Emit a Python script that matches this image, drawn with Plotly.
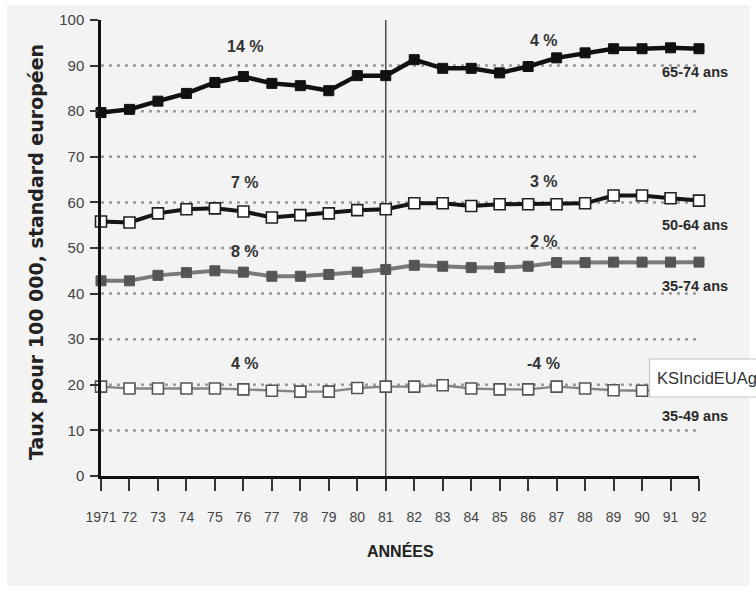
import plotly.graph_objects as go

# Années (axe horizontal) et libellés des graduations
years = list(range(1971, 1993))
year_labels = ["1971"] + [str(y)[2:] for y in years[1:]]

# Taux d'incidence pour 100 000, standard européen, par tranche d'âge
rate_65_74 = [79.7, 80.4, 82.2, 83.9, 86.3, 87.6, 86.1, 85.6, 84.5, 87.8, 87.8,
              91.3, 89.4, 89.4, 88.4, 89.8, 91.7, 92.8, 93.7, 93.7, 93.9, 93.7]
rate_50_64 = [55.8, 55.6, 57.6, 58.5, 58.7, 58.0, 56.7, 57.2, 57.6, 58.3, 58.5,
              59.8, 59.8, 59.2, 59.6, 59.6, 59.6, 59.8, 61.5, 61.5, 60.9, 60.4]
rate_35_74 = [42.8, 42.8, 44.0, 44.6, 45.0, 44.7, 43.8, 43.8, 44.2, 44.7, 45.3,
              46.2, 46.0, 45.7, 45.7, 46.0, 46.8, 46.8, 46.9, 46.9, 46.9, 46.9]
rate_35_49 = [19.6, 19.2, 19.2, 19.2, 19.2, 19.0, 18.7, 18.5, 18.5, 19.3, 19.6,
              19.6, 19.9, 19.2, 19.0, 19.0, 19.6, 19.2, 18.8, 18.7, 18.8, 18.8]

# Évolutions en % sur 1971-81 et 1981-92
change_labels = [
    ("14 %", "4 %", 94.1, 95.4),
    ("7 %", "3 %", 64.3, 64.5),
    ("8 %", "2 %", 49.3, 51.5),
    ("4 %", "-4 %", 24.6, 24.6),
]
# Libellés des tranches d'âge (texte, hauteur)
age_labels = [("65-74 ans", 88.6), ("50-64 ans", 55.0),
              ("35-74 ans", 41.6), ("35-49 ans", 13.1)]
y_ticks = list(range(0, 101, 10))
grid_levels = list(range(10, 100, 10))

SANS = "Liberation Sans, Arial, sans-serif"

# Géométrie de la zone de tracé (pixels)
W, H = 756, 592
L, R, T, B = 101, 56.5, 20, 116
PW, PH = W - L - R, H - T - B


def px(x):
    return (x - L) / PW


def py(y):
    return (H - B - y) / PH


fig = go.Figure()

series = [
    (rate_65_74, "#111111", 4.5, dict(symbol="square", size=10, color="#111111",
                                      line=dict(color="#111111", width=1))),
    (rate_50_64, "#151515", 4, dict(symbol="square", size=11, color="white",
                                    line=dict(color="#222222", width=1.6))),
    (rate_35_74, "#7a7a7a", 4, dict(symbol="square", size=10, color="#555555",
                                    line=dict(color="#555555", width=1))),
    (rate_35_49, "#858585", 2.4, dict(symbol="square", size=11, color="white",
                                      line=dict(color="#555555", width=1.6))),
]
for vals, col, lw, mk in series:
    fig.add_trace(go.Scatter(
        x=years, y=vals, mode="lines+markers",
        line=dict(color=col, width=lw), marker=mk,
        cliponaxis=False, showlegend=False, hoverinfo="skip",
    ))

shapes = [
    # fond gris de la figure
    dict(type="rect", xref="paper", yref="paper", x0=px(7), x1=px(750),
         y0=py(586), y1=py(5), fillcolor="#f3f3f3", line=dict(width=0),
         layer="below"),
    # trait vertical en 1981
    dict(type="line", xref="x", yref="y", x0=1981, x1=1981, y0=0, y1=100,
         line=dict(color="#4a4a4a", width=1.5), layer="below"),
]
for g in grid_levels:
    shapes.append(dict(type="line", xref="x", yref="y", x0=1971, x1=1992,
                       y0=g, y1=g, layer="below",
                       line=dict(color="#9a9a9a", width=2.5, dash="3px,5px")))
# encadré « KSIncidEUAg »
shapes.append(dict(type="rect", xref="paper", yref="paper",
                   x0=px(650), x1=px(775), y0=py(397), y1=py(359),
                   fillcolor="white", line=dict(color="#c4c4c4", width=1.2),
                   layer="above"))

annotations = []
pct_font = dict(family=SANS, size=16, color="#333333", weight="bold")
for left, right, yl, yr in change_labels:
    annotations.append(dict(x=1976.05, y=yl, xref="x", yref="y", text=left,
                            showarrow=False, font=pct_font))
    annotations.append(dict(x=1986.55, y=yr, xref="x", yref="y", text=right,
                            showarrow=False, font=pct_font))
for txt, yv in age_labels:
    annotations.append(dict(x=1991.85, y=yv, xref="x", yref="y", text=txt,
                            showarrow=False,
                            font=dict(family=SANS, size=14.5, color="#2a2a2a",
                                      weight="bold")))
annotations.append(dict(x=px(655), y=py(378), xref="paper", yref="paper",
                        text="KSIncidEUAg", showarrow=False,
                        xanchor="left", yanchor="middle",
                        font=dict(family=SANS, size=16.5, color="#333333")))
annotations.append(dict(x=px(401), y=py(551), xref="paper", yref="paper",
                        text="ANNÉES", showarrow=False,
                        xanchor="center", yanchor="middle",
                        font=dict(family=SANS, size=16, color="#222222",
                                  weight="bold")))
annotations.append(dict(x=px(36), y=py(252), xref="paper", yref="paper",
                        text="Taux pour 100 000, standard européen",
                        textangle=-90, showarrow=False,
                        xanchor="center", yanchor="middle",
                        font=dict(family="DejaVu Sans, sans-serif", size=19,
                                  color="#222222", weight="bold")))

fig.update_layout(
    width=W, height=H,
    margin=dict(l=L, r=R, t=T, b=B, pad=0),
    paper_bgcolor="white", plot_bgcolor="rgba(0,0,0,0)",
    shapes=shapes, annotations=annotations,
    xaxis=dict(range=[1971, 1992], tickvals=years, ticktext=year_labels,
               tickangle=0,
               showgrid=False, zeroline=False, showline=True,
               linecolor="#111111", linewidth=2.5, ticks="outside",
               ticklen=12, tickwidth=1.5, tickcolor="#333333",
               ticklabelstandoff=14,
               tickfont=dict(family=SANS, size=14, color="#444444")),
    yaxis=dict(range=[0, 100], tickvals=y_ticks,
               showgrid=False, zeroline=False, showline=True,
               linecolor="#111111", linewidth=2.5, ticks="outside",
               ticklen=8, tickwidth=1.5, tickcolor="#333333",
               ticklabelstandoff=3,
               tickfont=dict(family=SANS, size=15, color="#444444")),
)

fig.write_html("out.html")
